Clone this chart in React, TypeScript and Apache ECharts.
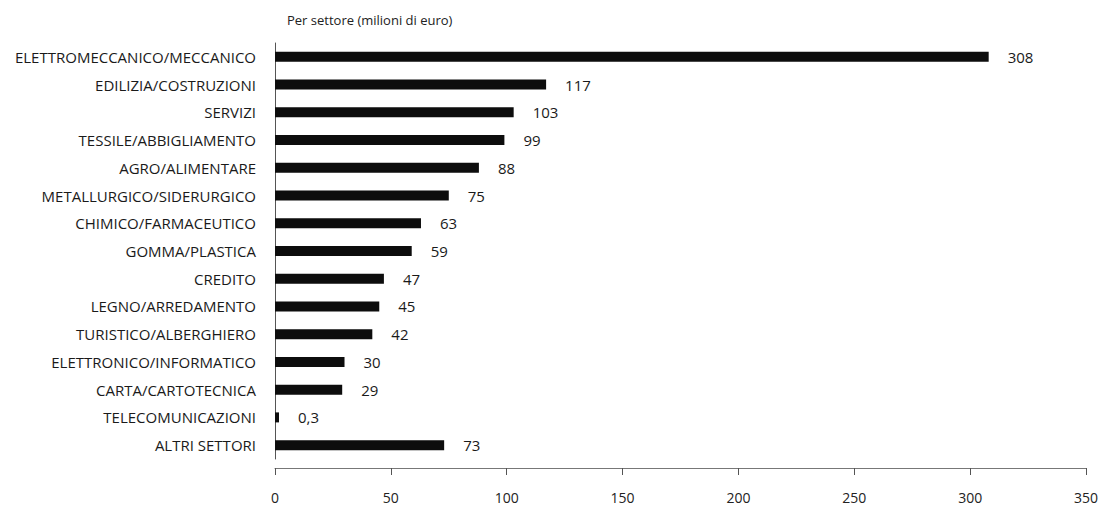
import React, { useEffect, useRef } from "react";
import * as echarts from "echarts";

// Sectors, top to bottom
const sectors = [
  "ELETTROMECCANICO/MECCANICO",
  "EDILIZIA/COSTRUZIONI",
  "SERVIZI",
  "TESSILE/ABBIGLIAMENTO",
  "AGRO/ALIMENTARE",
  "METALLURGICO/SIDERURGICO",
  "CHIMICO/FARMACEUTICO",
  "GOMMA/PLASTICA",
  "CREDITO",
  "LEGNO/ARREDAMENTO",
  "TURISTICO/ALBERGHIERO",
  "ELETTRONICO/INFORMATICO",
  "CARTA/CARTOTECNICA",
  "TELECOMUNICAZIONI",
  "ALTRI SETTORI",
];

// Amounts in millions of euro
const amounts = [308, 117, 103, 99, 88, 75, 63, 59, 47, 45, 42, 30, 29, 0.3, 73];

const axisMin = 0;
const axisMax = 350;
const axisStep = 50;

const titleText = "Per settore (milioni di euro)";

const FONT = '"Open Sans", "Noto Sans", sans-serif';

const formatIt = (v: number) => String(v).replace(".", ",");

export default function App() {
  const ref = useRef<HTMLDivElement>(null);

  useEffect(() => {
    if (!ref.current) return;
    const chart = echarts.init(ref.current, undefined, { renderer: "svg" });
    chart.setOption({
      animation: false,
      backgroundColor: "#ffffff",
      textStyle: { fontFamily: FONT },
      title: {
        text: titleText,
        left: 282,
        top: 8,
        textStyle: { fontFamily: FONT, fontSize: 13, fontWeight: "normal", color: "#222" },
      },
      grid: { left: 275, right: 18, top: 43, bottom: 49, containLabel: false },
      xAxis: {
        type: "value",
        min: axisMin,
        max: axisMax,
        interval: axisStep,
        offset: 9,
        splitLine: { show: false },
        axisLine: { show: true, lineStyle: { color: "#777", width: 1 } },
        axisTick: { show: true, length: 7, lineStyle: { color: "#555", width: 1 } },
        axisLabel: { margin: 22, fontSize: 14, color: "#222", fontFamily: FONT },
      },
      yAxis: {
        type: "category",
        data: sectors,
        inverse: true,
        axisLine: { show: true, lineStyle: { color: "#555", width: 1 } },
        axisTick: { show: false },
        axisLabel: { margin: 19, fontSize: 15, color: "#1a1a1a", fontFamily: FONT },
      },
      series: [
        {
          type: "bar",
          data: amounts,
          barWidth: 10,
          barMinHeight: 4,
          itemStyle: { color: "#0d0d0d" },
          label: {
            show: true,
            position: "right",
            distance: 19,
            fontSize: 15,
            color: "#1a1a1a",
            fontFamily: FONT,
            formatter: (p: any) => formatIt(p.value),
          },
        },
      ],
    });
    return () => chart.dispose();
  }, []);

  return (
    <div
      ref={ref}
      style={{ position: "fixed", left: 0, top: 0, width: 1104, height: 508, background: "#fff" }}
    />
  );
}
